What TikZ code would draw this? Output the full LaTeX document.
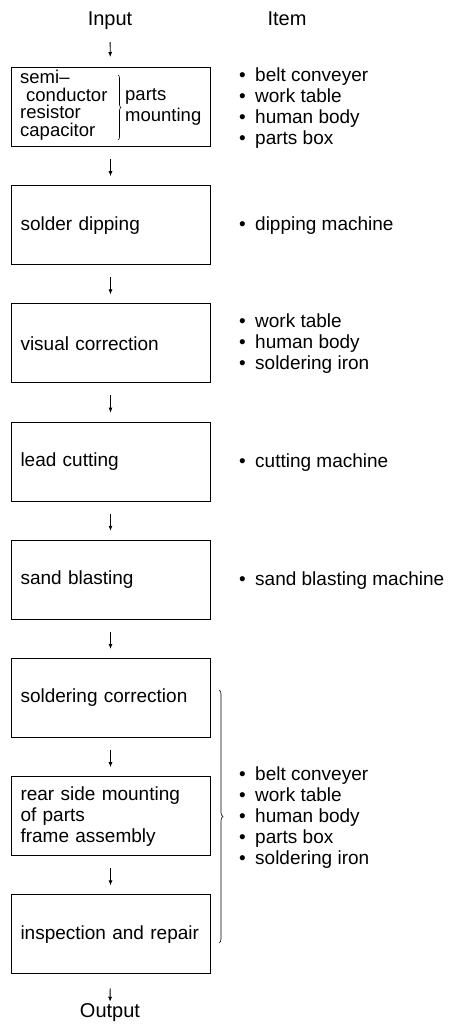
\documentclass[tikz,border=0pt]{standalone}
\usepackage{fontspec}
\setmainfont{Liberation Sans}
\usetikzlibrary{arrows.meta,decorations.pathreplacing}

\newcommand{\itm}[1]{\makebox[16pt][l]{\textbullet}#1}

\begin{document}
\begin{tikzpicture}[x=1pt,y=-1pt,font=\fontsize{19}{21}\selectfont]

      \useasboundingbox (0,0) rectangle (455,1028);

      \begin{scope}[every node/.style={inner sep=0pt,font=\fontsize{20}{24}\selectfont}]
        \node (in)   at (110,21)   {Input};
        \node (item) at (287,19)   {Item};
        \node (out)  at (110,1013) {Output};
      \end{scope}

      \begin{scope}[every node/.style={draw,line width=1pt,minimum height=79pt,text width=180pt,inner xsep=9.5pt,inner ysep=0pt,align=left}]
        \node (1) at (110.5,107)   {};
        \node (2) at (110.5,225.2) {solder dipping};
        \node (3) at (110.5,343.4) {visual correction};
        \node (4) at (110.5,461.6) {lead cutting};
        \node (5) at (110.5,579.8) {sand blasting};
        \node (6) at (110.5,698)   {soldering correction};
        \node (7) at (110.5,816.2) {rear side mounting\\of parts\\frame assembly};
        \node (8) at (110.5,934.4) {inspection and repair};
      \end{scope}

      \begin{scope}[every node/.style={inner sep=0pt,anchor=west,align=left}]
        \node[font=\fontsize{18.5}{17.5}\selectfont] (1a) at (20,105)
          {semi–\\\hspace*{6pt}conductor\\resistor\\capacitor};
        \node[font=\fontsize{18.5}{21}\selectfont] (1b) at (125,107) {parts\\mounting};

        \node (i1) at (239,108) {\itm{belt conveyer}\\\itm{work table}\\\itm{human body}\\\itm{parts box}};
        \node (i2) at (239,226) {\itm{dipping machine}};
        \node (i3) at (239,344) {\itm{work table}\\\itm{human body}\\\itm{soldering iron}};
        \node (i4) at (239,463) {\itm{cutting machine}};
        \node (i5) at (239,581) {\itm{sand blasting machine}};
        \node (i6) at (239,818) {\itm{belt conveyer}\\\itm{work table}\\\itm{human body}\\\itm{parts box}\\\itm{soldering iron}};
      \end{scope}

      % braces
      \draw[line width=.6pt,decorate,decoration={brace,amplitude=3pt}] (118,75) -- (118,140);
      \draw[line width=.6pt,decorate,decoration={brace,amplitude=4pt}] (219,690) -- (219,943);

      \begin{scope}[every edge/.style={draw,line width=.8pt,shorten <=12pt,shorten >=9pt,-{Latex[length=5pt,width=4pt]}}]
        \path (in) edge[shorten <=12pt,shorten >=10pt] (1);
        \path (1)  edge (2);
        \path (2)  edge (3);
        \path (3)  edge (4);
        \path (4)  edge (5);
        \path (5)  edge (6);
        \path (6)  edge (7);
        \path (7)  edge (8);
        \path (8)  edge[shorten <=14pt,shorten >=2pt] (out);
      \end{scope}

\end{tikzpicture}
\end{document}
